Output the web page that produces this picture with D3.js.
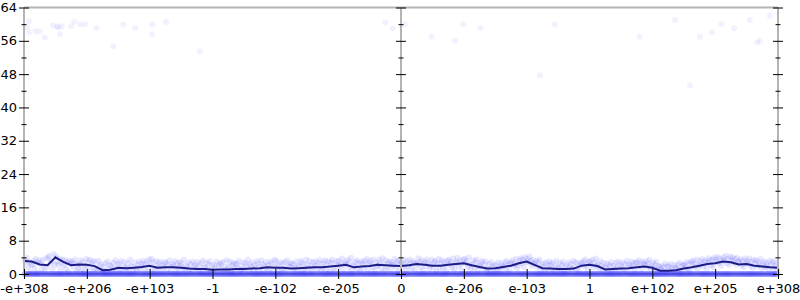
<!DOCTYPE html>
<html>
<head>
<meta charset="utf-8">
<script src="https://cdn.jsdelivr.net/npm/d3@7"></script>
<style>
  html, body { margin: 0; padding: 0; background: #fff; }
  svg text { font-family: "DejaVu Sans", sans-serif; font-size: 13px; fill: #000; }
</style>
</head>
<body>
<svg id="chart" width="800" height="300"></svg>
<script>
// x tick labels, one per unit of the x domain (0..12)
const xTickLabels = ['-e+308', '-e+206', '-e+103', '-1', '-e-102', '-e-205', '0',
                     'e-206', 'e-103', '1', 'e+102', 'e+205', 'e+308']
const yTicks = [0, 8, 16, 24, 32, 40, 48, 56, 64]
const yMinorTicks = [4, 12, 20, 28, 36, 44, 52, 60]

// trend line, one value every 1/8 of an x unit
const trend = [3.1, 3.0, 2.3, 2.1, 4.0, 2.9, 2.1, 2.3, 2.2, 1.9, 0.9, 1.0, 1.5, 1.4, 1.5, 1.7,
  2.0, 1.5, 1.6, 1.6, 1.5, 1.3, 1.2, 1.2, 1.0, 1.1, 1.1, 1.2, 1.2, 1.3, 1.4, 1.6,
  1.5, 1.5, 1.3, 1.4, 1.5, 1.6, 1.6, 1.8, 2.0, 2.2, 1.6, 1.8, 1.9, 2.2, 2.1, 2.0,
  1.9, 2.1, 2.4, 2.2, 2.0, 2.0, 2.2, 2.4, 2.6, 2.1, 1.7, 1.3, 1.4, 1.7, 2.0, 2.6,
  3.0, 2.2, 1.4, 1.3, 1.2, 1.2, 1.3, 2.0, 2.2, 1.9, 1.1, 1.2, 1.3, 1.4, 1.6, 1.8,
  1.5, 0.8, 0.8, 0.9, 1.3, 1.6, 2.0, 2.4, 2.6, 3.0, 2.8, 2.3, 2.4, 2.0, 1.8, 1.6, 1.5]

// non-zero samples in each 1/8-unit bin
const cloud = [
  [3.4,2.8,3.9,1.6,2.9,0.4,2.2], [2.2,3.1,1.4,3.6,0.3,2.7,3.3], [2.6,1.1,3.3,2.0,0.6,3.8,1.7], [3.9,4.4,2.5,3.1,1.2,4.8,2.3],
  [4.2,3.0,2.2,3.7,0.9,2.6,3.4], [2.1,3.4,1.3,2.8,0.5,3.2,2.5], [3.0,1.8,2.6,3.5,0.7,2.2,1.4], [2.4,3.3,1.1,2.9,0.4,1.9,3.6],
  [1.6,2.8,3.4,0.8,2.3,3.1,1.2], [2.9,1.3,0.6,3.2,1.9,2.4,0.9], [0.7,1.8,2.6,0.4,3.0,1.2,2.1], [1.9,0.5,2.7,1.4,3.3,0.9,2.2],
  [2.5,1.1,3.1,0.6,1.8,2.9,1.5], [1.3,2.6,0.8,3.4,2.0,1.7,0.4], [2.8,1.5,0.9,2.2,3.0,1.1,2.5], [1.7,3.2,2.4,0.6,2.9,1.4,3.5],
  [2.3,3.6,1.2,2.8,0.8,3.1,1.9], [1.4,2.5,3.0,0.7,2.1,1.6,2.8], [2.7,1.0,2.2,3.3,0.5,1.8,2.4], [1.9,3.1,0.8,2.5,1.4,2.9,2.0],
  [2.6,1.3,3.4,0.9,2.0,1.6,2.8], [1.1,2.4,0.6,3.0,1.8,2.2,1.4], [2.9,0.8,1.9,2.6,0.4,3.2,1.5], [1.6,2.7,1.0,2.3,3.1,0.7,2.0],
  [0.9,2.2,1.5,3.0,0.6,1.9,2.6], [2.4,1.2,2.9,0.8,1.7,3.3,1.0], [1.8,3.0,0.5,2.1,2.7,1.3,2.4], [2.5,1.4,3.2,0.9,2.0,1.1,2.8],
  [1.2,2.6,1.9,3.4,0.7,2.3,1.6], [2.8,0.9,2.1,1.5,3.1,2.5,0.6], [1.7,3.3,2.4,0.8,1.9,2.9,1.3], [2.2,1.0,3.0,2.6,0.5,1.8,3.4],
  [3.1,1.6,2.3,0.7,2.8,1.2,2.5], [1.4,2.9,0.9,3.3,2.0,1.7,2.6], [2.6,1.1,2.2,1.5,3.0,0.6,1.9], [1.8,3.2,2.7,0.8,2.4,1.3,3.5],
  [2.3,1.4,3.1,2.0,0.7,2.8,1.6], [3.0,2.1,1.2,2.7,3.4,0.9,2.4], [1.5,2.8,3.3,1.1,2.2,3.0,0.6], [2.7,3.5,1.4,2.5,0.8,3.1,2.0],
  [3.2,1.9,2.6,3.7,1.0,2.3,2.9], [2.4,3.4,1.5,2.8,3.9,0.9,2.1], [1.8,2.9,3.3,1.2,2.5,0.7,3.0], [2.6,1.4,3.2,2.2,3.6,1.0,2.7],
  [3.1,2.3,1.6,3.5,0.8,2.8,1.9], [2.0,3.4,2.7,1.3,3.8,2.4,0.9], [3.3,1.7,2.5,3.0,1.1,2.9,2.2], [2.2,3.6,1.5,2.8,3.2,0.8,2.5],
  [2.9,1.6,3.4,2.3,0.9,3.0,1.8], [3.5,2.4,1.3,3.1,2.7,1.0,2.6], [2.3,3.8,2.9,1.6,3.3,0.9,2.5], [3.0,1.9,3.5,2.6,1.2,2.2,3.4],
  [1.7,2.8,3.1,0.8,2.4,3.6,1.5], [2.6,3.3,1.4,2.9,2.1,0.7,3.2], [3.4,2.2,2.8,1.6,3.7,1.1,2.5], [2.9,3.9,1.8,3.2,2.4,0.9,3.5],
  [3.6,2.5,3.1,1.7,4.0,2.2,1.2], [2.4,3.3,1.5,2.8,3.5,0.8,2.1], [1.9,2.7,3.2,1.1,2.3,3.0,0.6], [1.3,2.4,0.8,2.9,1.7,2.1,0.5],
  [2.2,1.1,2.8,1.6,0.7,2.5,1.9], [1.8,2.9,1.2,3.1,2.3,0.9,2.6], [2.7,3.3,1.9,2.4,3.6,1.3,2.1], [3.2,3.8,2.5,3.5,1.7,4.1,2.9],
  [3.6,2.8,4.2,3.1,1.9,3.4,2.4], [2.5,3.1,1.6,2.9,3.5,1.0,2.2], [1.7,2.5,0.9,2.8,1.4,2.1,3.0], [2.3,1.2,2.7,0.7,1.9,3.2,1.5],
  [1.4,2.6,1.0,2.2,3.0,0.6,1.8], [2.1,0.8,2.8,1.5,2.4,1.2,3.1], [1.6,2.9,1.1,2.5,0.7,2.0,2.7], [2.6,3.2,1.8,3.5,2.3,1.0,2.9],
  [3.0,2.2,3.4,1.5,2.7,3.7,1.9], [2.4,1.3,3.1,2.0,0.8,2.7,1.6], [1.5,2.6,0.9,2.2,1.8,2.9,0.6], [2.0,1.2,2.7,1.6,3.0,0.8,2.3],
  [1.7,2.8,1.1,2.4,0.7,3.1,1.9], [2.3,1.5,3.0,1.9,2.6,1.0,2.8], [2.8,1.8,3.3,2.2,1.2,2.9,2.5], [2.2,3.1,1.6,2.6,3.4,1.3,2.0],
  [2.7,1.4,2.3,3.0,0.9,2.0,1.7], [1.2,2.0,0.7,1.6,2.5,0.5,1.9], [1.8,0.9,2.4,1.3,0.6,2.1,1.5], [1.4,2.3,1.0,2.7,0.8,1.9,2.2],
  [2.2,1.5,2.9,1.1,2.5,0.9,3.0], [2.6,3.2,1.7,2.4,3.5,1.3,2.1], [3.1,2.4,3.6,1.8,2.9,3.3,1.4], [2.7,3.8,3.2,2.1,3.5,1.6,4.0],
  [3.4,2.9,4.1,2.5,3.7,1.9,3.2], [3.9,3.2,4.4,2.6,3.6,2.2,4.2], [3.3,4.0,2.8,3.6,2.2,3.9,3.0], [2.9,3.5,2.1,3.2,1.7,3.8,2.6],
  [3.2,2.5,3.7,2.0,3.0,1.5,3.4], [2.6,3.3,1.8,2.9,2.2,3.6,1.4], [2.3,3.0,1.6,2.7,2.0,1.2,3.2], [2.1,2.8,1.4,3.1,1.9,2.5,1.0]
]

// number of samples that came out at exactly 0, per bin
const zeroHits = [13,14,12,13,14,13,12,14, 13,12,14,13,13,14,12,13, 14,13,12,14,13,12,13,14, 12,13,14,13,12,14,13,13,
                  14,12,13,14,13,12,14,13, 13,14,12,13,14,13,12,14, 13,12,14,13,13,14,12,13, 14,13,12,14,13,13,12,14,
                  12,14,13,13,14,12,13,14, 13,12,14,13,12,14,13,13, 14,13,12,14,13,12,14,13, 13,14,12,13,14,13,12,14]

// high outliers [x unit, value]
const outliers = [[0.05,59.2],[0.08,60.7],[0.08,58.0],[0.18,58.3],[0.25,58.3],[0.33,56.8],[0.46,59.7],
  [0.53,59.5],[0.54,59.2],[0.57,57.6],[0.60,59.5],[0.75,59.5],[0.80,60.5],[0.89,59.9],[0.97,59.9],
  [1.15,59.0],[1.42,54.7],[1.58,59.9],[1.77,59.0],[2.04,59.9],[2.04,57.6],[2.26,60.5],[2.80,53.5],
  [5.75,60.4],[5.87,59.0],[6.06,60.0],[6.49,57.0],[6.86,56.0],[6.99,60.0],[7.26,59.0],[8.21,47.7],
  [8.45,60.0],[9.80,57.0],[10.36,61.0],[10.60,45.3],[10.76,57.0],[10.95,58.0],[11.10,60.0],
  [11.30,59.0],[11.55,61.0],[11.67,55.6],[11.71,56.0],[11.87,62.0]]

const plotLeft = 24, plotRight = 778, plotTop = 7.5, plotBottom = 274
const binWidth = 12 / cloud.length

const svg = d3.select('#chart')

const xScale = d3.scaleLinear().domain([0, 12]).range([plotLeft, plotRight])
const yScale = d3.scaleLinear().domain([0, 64]).range([plotBottom, plotTop])

// flatten the bins into points
const points = []
cloud.forEach((row, i) => {
    row.forEach((v, j) => {
        points.push({ x: i * binWidth + (j + 0.5) / row.length * binWidth, y: v })
    })
    const n = zeroHits[i]
    for (let j = 0; j < n; j++) {
        points.push({ x: i * binWidth + (j + 0.5) / n * binWidth, y: 0 })
    }
})

// frame lines
svg.append('line')
    .attr('x1', plotLeft).attr('x2', plotRight)
    .attr('y1', yScale(64)).attr('y2', yScale(64))
    .attr('stroke', '#b4b4b4').attr('stroke-width', 2)
svg.append('line')
    .attr('x1', plotLeft).attr('x2', plotRight)
    .attr('y1', yScale(0)).attr('y2', yScale(0))
    .attr('stroke', '#b4b4b4').attr('stroke-width', 2)

svg.append('g')
    .selectAll('circle')
    .data(points)
    .enter()
    .append('circle')
    .attr('cx', d => xScale(d.x))
    .attr('cy', d => yScale(d.y))
    .attr('r', 3)
    .attr('fill', '#2020ff')
    .attr('fill-opacity', 0.1)

svg.append('g')
    .selectAll('circle')
    .data(outliers)
    .enter()
    .append('circle')
    .attr('cx', d => xScale(d[0]))
    .attr('cy', d => yScale(d[1]))
    .attr('r', 3)
    .attr('fill', '#2020ff')
    .attr('fill-opacity', 0.06)

const line = d3.line()
    .x((d, i) => xScale(i * binWidth))
    .y(d => yScale(d))
svg.append('path')
    .datum(trend)
    .attr('d', line)
    .attr('fill', 'none')
    .attr('stroke', '#1c1c86')
    .attr('stroke-width', 2)

// vertical axes: left (labelled), middle and right
const drawYAxis = (xPos, labelled) => {
    const g = svg.append('g').attr('transform', 'translate(' + xPos + ',0)')
    g.append('line')
        .attr('y1', yScale(64)).attr('y2', yScale(0))
        .attr('stroke', '#b4b4b4').attr('stroke-width', 2)
    const major = d3.axisLeft(yScale).tickValues(yTicks).tickSize(5).tickPadding(2)
    const majorR = d3.axisRight(yScale).tickValues(yTicks).tickSize(5).tickFormat('')
    const minor = d3.axisLeft(yScale).tickValues(yMinorTicks).tickSize(2.5).tickFormat('')
    const minorR = d3.axisRight(yScale).tickValues(yMinorTicks).tickSize(2.5).tickFormat('')
    const a = g.append('g').call(labelled ? major : major.tickFormat(''))
    g.append('g').call(majorR)
    g.append('g').call(minor)
    g.append('g').call(minorR)
    g.selectAll('.domain').remove()
    g.selectAll('.tick line').attr('stroke', '#000')
    a.selectAll('text').style('font-size', '13px').style('font-family', '"DejaVu Sans", sans-serif')
}
drawYAxis(plotLeft, true)
drawYAxis(xScale(6), false)
drawYAxis(plotRight, false)

// x axis ticks and labels
const xAxis = d3.axisBottom(xScale)
    .tickValues(d3.range(xTickLabels.length))
    .tickFormat(i => xTickLabels[i])
    .tickSize(5)
    .tickPadding(5)
const xg = svg.append('g')
    .attr('transform', 'translate(0,' + plotBottom + ')')
    .call(xAxis)
xg.select('.domain').remove()
xg.selectAll('.tick line').attr('y1', -5).attr('stroke', '#000')
xg.selectAll('text').style('font-size', '13px').style('font-family', '"DejaVu Sans", sans-serif')
</script>
</body>
</html>
